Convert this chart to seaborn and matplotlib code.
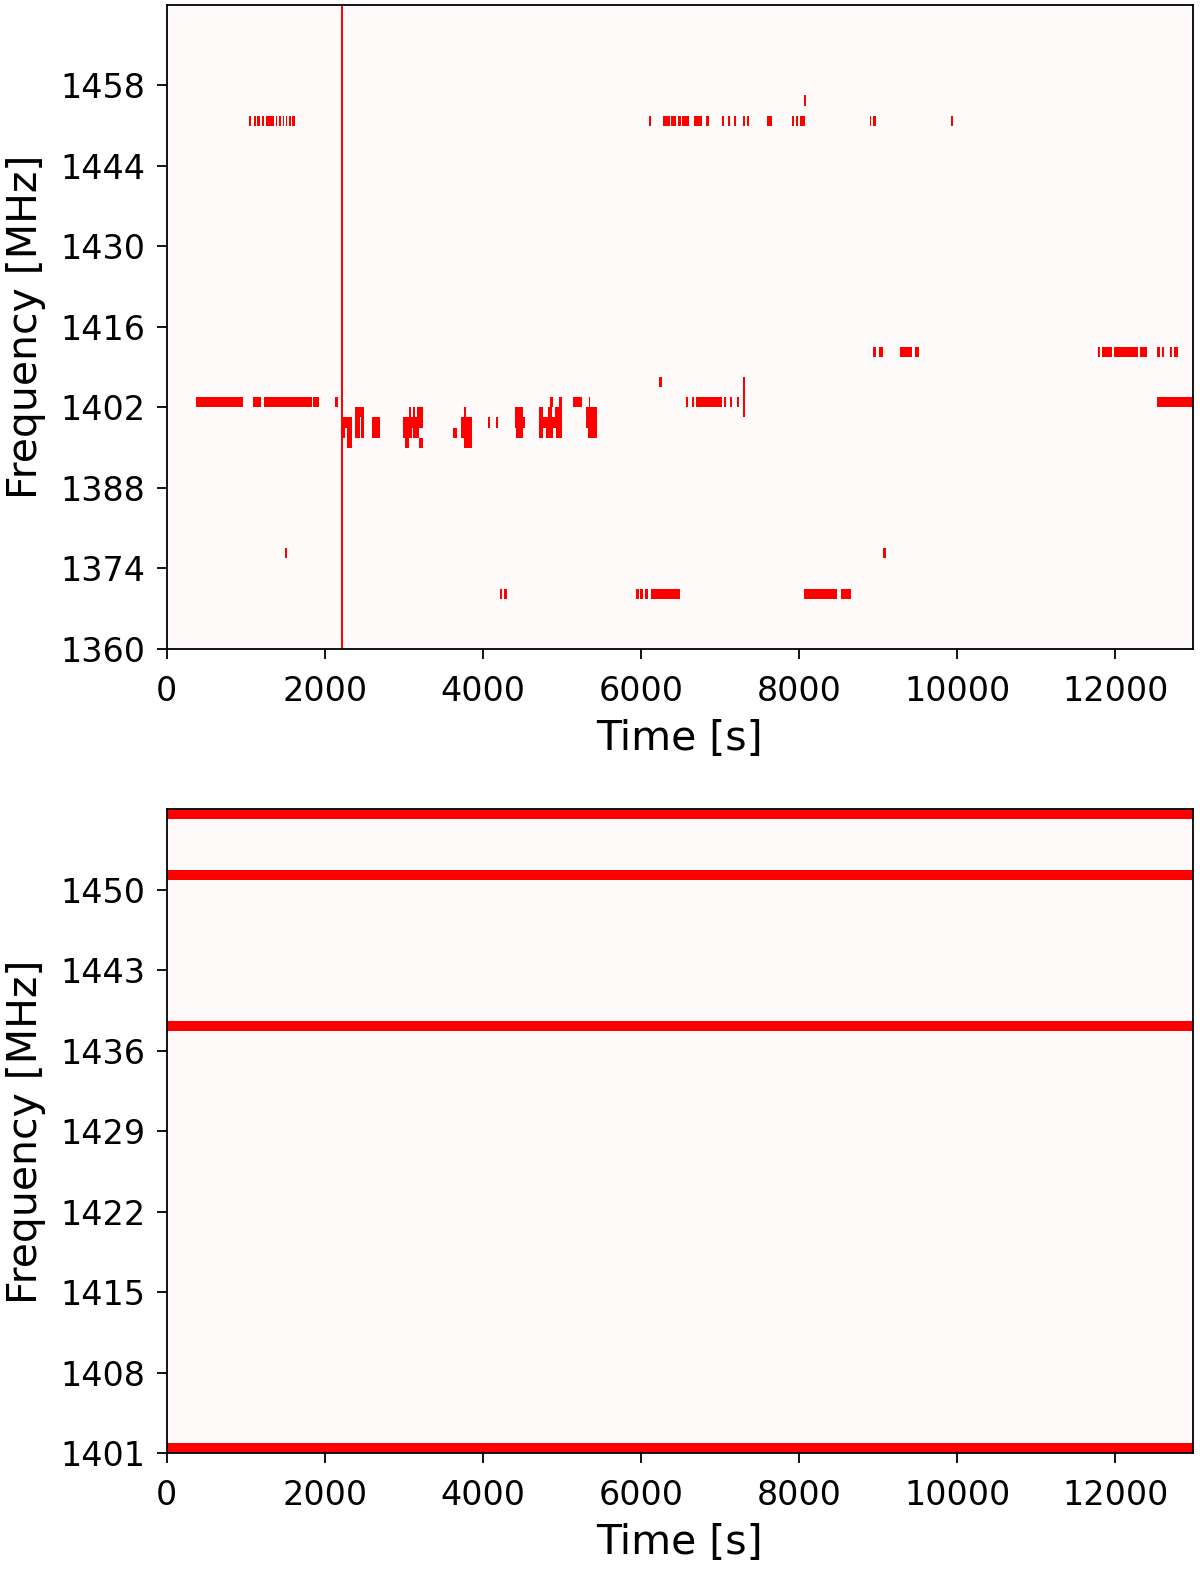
import numpy as np
import matplotlib
matplotlib.use("Agg")
import matplotlib.pyplot as plt
import seaborn as sns
from matplotlib.colors import ListedColormap

# ---------------- data ----------------
TIME_MAX = 12980          # s, length of observation
DT = 5                    # s, time bin width of the mask
NCHAN = 64

# top panel: 64 channels of 1.75 MHz starting at 1360 MHz
top_f0, top_df = 1360.0, 1.75
top_yticks = [1360, 1374, 1388, 1402, 1416, 1430, 1444, 1458]
# bottom panel: 64 channels of 0.875 MHz starting at 1401 MHz
bot_f0, bot_df = 1401.0, 0.875
bot_yticks = [1401, 1408, 1415, 1422, 1429, 1436, 1443, 1450]
time_ticks = [0, 2000, 4000, 6000, 8000, 10000, 12000]

# flagged time intervals [s] for each channel of the top panel
flags_all_channels = [(2204, 2229)]
flags_ch5 = [(4214, 4239), (4264, 4298), (5942, 5971), (5992, 6022), (6047, 6081),
             (6131, 6489), (8061, 8474), (8533, 8660)]
flags_ch9 = [(1490, 1515), (9068, 9098)]
flags_ch20 = [(2284, 2338), (3012, 3067), (3194, 3244), (3759, 3860)]
flags_ch21 = [(2229, 2258), (2284, 2338), (2389, 2444), (2460, 2486), (2595, 2696),
              (2991, 3100), (3118, 3194), (3624, 3674), (3729, 3860), (4424, 4508),
              (4719, 4761), (4803, 4888), (4930, 4993), (5330, 5436)]
flags_ch22 = [(2229, 2338), (2389, 2444), (2460, 2486), (2595, 2696), (2991, 3244),
              (3729, 3860), (4066, 4087), (4171, 4192), (4403, 4529), (4719, 4993),
              (5309, 5436)]
flags_ch23 = [(2389, 2486), (3067, 3084), (3118, 3143), (3160, 3244), (3759, 3784),
              (4403, 4500), (4719, 4761), (4824, 4866), (4909, 4993), (5309, 5350),
              (5364, 5436), (7290, 7315)]
flags_ch24 = [(370, 969), (1095, 1188), (1230, 1833), (1854, 1917), (2128, 2157),
              (4854, 4879), (4964, 4997), (5149, 5254), (5339, 5360), (6565, 6590),
              (6641, 6674), (6700, 7028), (7058, 7079), (7134, 7155), (7214, 7239),
              (7290, 7315), (12533, 12980)]
flags_ch25 = [(7290, 7315)]
flags_ch26 = [(6232, 6257), (7290, 7315)]
flags_ch29 = [(8942, 8975), (9017, 9051), (9279, 9430), (9460, 9510), (11782, 11808),
              (11833, 11959), (11989, 12284), (12313, 12398), (12533, 12558),
              (12587, 12608), (12693, 12718), (12747, 12789)]
flags_ch52 = [(1045, 1062), (1103, 1129), (1146, 1171), (1201, 1234), (1255, 1356),
              (1382, 1399), (1424, 1441), (1466, 1483), (1508, 1525), (1550, 1567),
              (1592, 1618), (6101, 6127), (6278, 6363), (6384, 6439), (6468, 6506),
              (6523, 6603), (6666, 6771), (6826, 6856), (7028, 7050), (7109, 7130),
              (7184, 7205), (7290, 7311), (7345, 7366), (7597, 7656), (7909, 7930),
              (7964, 7985), (8019, 8069), (8891, 8912), (8942, 8967), (9923, 9949)]
flags_ch54 = [(8061, 8090)]

# bottom panel: channels flagged during the whole observation
bot_flagged_channels = [0, 42, 57, 63]

# ---------------- build masks ----------------
NT = int(round(TIME_MAX / DT))


def to_bins(a, b):
    i0 = int(np.floor(a / DT))
    i1 = max(int(np.ceil(b / DT)), i0 + 1)
    return i0, min(i1, NT)


top_channel_flags = {5: flags_ch5, 9: flags_ch9, 20: flags_ch20, 21: flags_ch21,
                     22: flags_ch22, 23: flags_ch23, 24: flags_ch24, 25: flags_ch25,
                     26: flags_ch26, 29: flags_ch29, 52: flags_ch52, 54: flags_ch54}

mask_top = np.zeros((NCHAN, NT))
for ch, segs in top_channel_flags.items():
    for a, b in segs:
        i0, i1 = to_bins(a, b)
        mask_top[ch, i0:i1] = 1
for a, b in flags_all_channels:
    i0, i1 = to_bins(a, b)
    mask_top[:, i0:i1] = 1

mask_bot = np.zeros((NCHAN, NT))
for ch in bot_flagged_channels:
    mask_bot[ch, :] = 1

# ---------------- plot ----------------
fig = plt.figure(figsize=(12, 15.69), dpi=100)
ax1 = fig.add_axes([0.139, 0.5864, 0.855, 0.4105])
ax2 = fig.add_axes([0.139, 0.0737, 0.855, 0.4105])
cmap = ListedColormap(["#fffafa", "#ff0000"])

for ax, mask, f0, df, yt in [(ax1, mask_top, top_f0, top_df, top_yticks),
                             (ax2, mask_bot, bot_f0, bot_df, bot_yticks)]:
    sns.heatmap(mask, ax=ax, cmap=cmap, vmin=0, vmax=1, cbar=False,
                xticklabels=False, yticklabels=False, rasterized=True)
    ax.invert_yaxis()
    ax.set_xticks([t / DT for t in time_ticks])
    ax.set_xticklabels([str(t) for t in time_ticks], rotation=0)
    ax.set_yticks([(f - f0) / df for f in yt])
    ax.set_yticklabels([str(f) for f in yt], rotation=0)
    ax.tick_params(axis="both", which="major", length=7.5, width=1.3,
                   labelsize=24, direction="out", color="black")
    ax.tick_params(axis="x", pad=11)
    ax.tick_params(axis="y", pad=8)
    for s in ax.spines.values():
        s.set_visible(True)
        s.set_linewidth(1.3)
        s.set_color("black")
    ax.set_xlabel("Time [s]", fontsize=29.5, labelpad=8)
    ax.set_ylabel("Frequency [MHz]", fontsize=29.5, labelpad=10)

fig.savefig("out.png", dpi=100, facecolor="white")
